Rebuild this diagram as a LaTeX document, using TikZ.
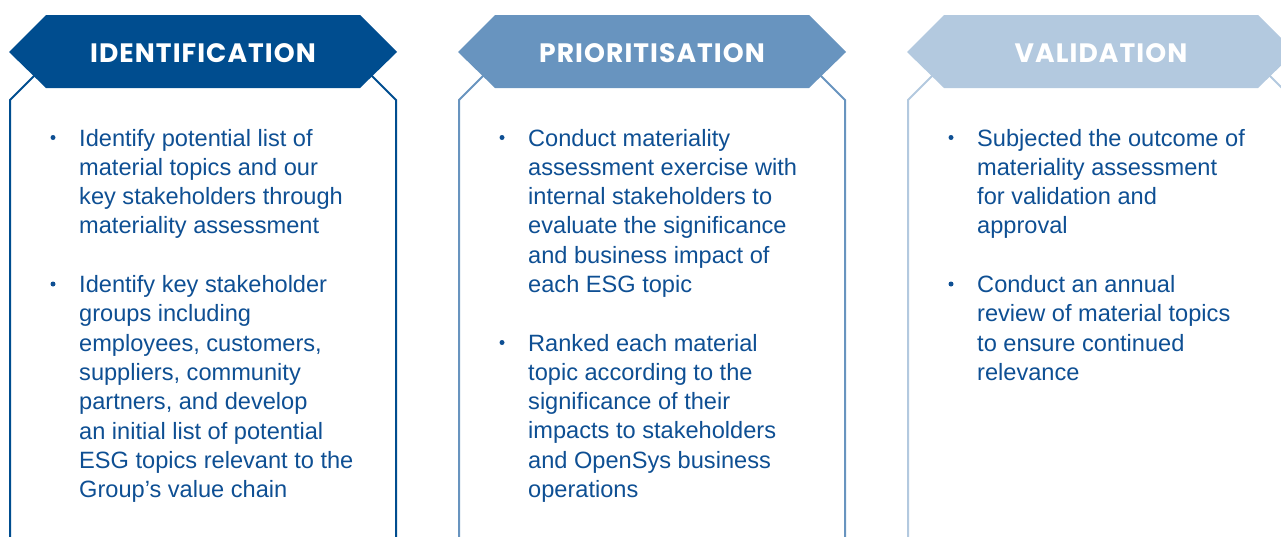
\documentclass[tikz,border=0pt]{standalone}
\usepackage{fontspec}
\setmainfont{Liberation Sans}
\newfontfamily\headfont{Poppins}[LetterSpace=4.0]
\usetikzlibrary{positioning}
\definecolor{stagedark}{RGB}{0,77,143}
\definecolor{stagemid}{RGB}{104,148,191}
\definecolor{stagelight}{RGB}{179,201,223}
\definecolor{bodyblue}{RGB}{14,79,147}
\tikzset{
  frameline/.style={line width=2pt},
  headtext/.style={text=white, inner sep=0pt, font=\headfont\bfseries\fontsize{26.6}{30}\selectfont},
  % base anchor of a multi-line node sits on its last line
  itemtext/.style={anchor=base west, align=left, inner sep=0pt, text=bodyblue,
                   font=\fontsize{23.6}{29.3}\selectfont},
  bulletdot/.style={circle, fill=bodyblue, inner sep=0pt, minimum size=5pt},
}

\begin{document}
\begin{tikzpicture}[x=1pt, y=-1pt]
\useasboundingbox (0,0) rectangle (1281,536);
\clip (0,0) rectangle (1281,536);

% ---- Stage frames and hexagon headers ----
\foreach \i/\shade/\title in {0/stagedark/IDENTIFICATION, 1/stagemid/PRIORITISATION, 2/stagelight/VALIDATION} {
  \begin{scope}[xshift=\i*449pt]
    \draw[frameline, \shade] (10,545) -- (10,100) -- (40,70);
    \draw[frameline, \shade] (396,545) -- (396,100) -- (366,70);
    \fill[\shade] (9,52) -- (46,15) -- (360,15) -- (397,52) -- (360,88) -- (46,88) -- cycle;
    \node[headtext] (head\i) at (203,53) {\title};
  \end{scope}
}

% ---- Identification ----
\node[itemtext] (idA) at (79,233.9) {Identify potential list of\\material topics and our\\key stakeholders through\\materiality assessment};
\node[itemtext] (idB) at (79,497.6) {Identify key stakeholder\\groups including\\employees, customers,\\suppliers, community\\partners, and develop\\an initial list of potential\\ESG topics relevant to the\\Group’s value chain};

% ---- Prioritisation ----
\node[itemtext] (prA) at (528,292.5) {Conduct materiality\\assessment exercise with\\internal stakeholders to\\evaluate the significance\\and business impact of\\each ESG topic};
\node[itemtext] (prB) at (528,497.5) {Ranked each material\\topic according to the\\significance of their\\impacts to stakeholders\\and OpenSys business\\operations};

% ---- Validation ----
\node[itemtext] (vaA) at (977,233.9) {Subjected the outcome of\\materiality assessment\\for validation and\\approval};
\node[itemtext] (vaB) at (977,380.4) {Conduct an annual\\review of material topics\\to ensure continued\\relevance};

% ---- Bullets, on each item's first line ----
\foreach \x/\y/\n in {53/146/1, 53/292.5/2, 502/146/3, 502/351/4, 951/146/5, 951/292.5/6}
  \node[bulletdot] (dot\n) at (\x,\y-8.5) {};
\end{tikzpicture}
\end{document}
